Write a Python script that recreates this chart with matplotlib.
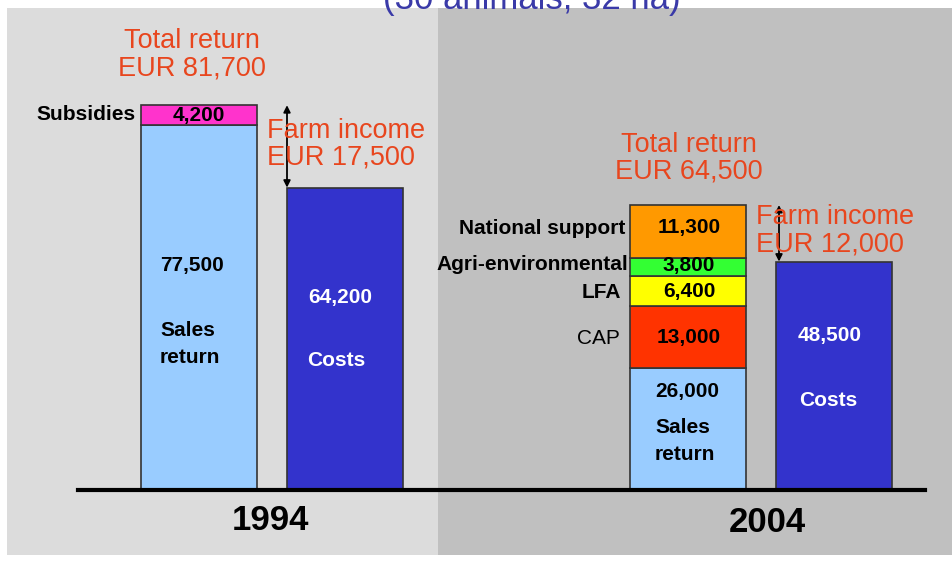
import matplotlib
matplotlib.use("Agg")
import matplotlib.pyplot as plt
import matplotlib.transforms as mtransforms
from matplotlib.patches import Rectangle

# ---------------- data ----------------
years = ["1994", "2004"]
sales_return = [77500, 26000]
subsidies_1994 = [4200]
support_labels_2004 = ["CAP", "LFA", "Agri-environmental", "National support"]
support_values_2004 = [13000, 6400, 3800, 11300]
costs = [64200, 48500]
total_return = [81700, 64500]
farm_income = [17500, 12000]
title_text = "(30 animals, 32 ha)"

# ---------------- style ----------------
W, H = 952, 562
FONT = ["Liberation Sans", "DejaVu Sans"]
plt.rcParams["font.family"] = FONT
RED = "#e8461e"
BLUE_TITLE = "#3a3aa8"
C_SALES = "#99ccff"
C_SUBS = "#ff33cc"
C_COSTS = "#3333cc"
C_SUPPORT = ["#ff3300", "#ffff00", "#33ff33", "#ff9900"]
EDGE = "#333333"

fig = plt.figure(figsize=(W / 100, H / 100), dpi=100)
fig.patch.set_facecolor("white")
ax = fig.add_axes([0, 0, 1, 1])
ax.set_axis_off()

# pixel transform (origin top-left) for layout text
px = mtransforms.Affine2D().scale(1 / W, -1 / H).translate(0, 1) + fig.transFigure

# data scale: baseline at pixel 490, 4.71 px per 1000 EUR
base_px = 490
ppk = 4.71e-3
ax.set_xlim(0, W)
ax.set_ylim(-(H - base_px) / ppk, base_px / ppk)

# background panels
fig.add_artist(Rectangle((7, 8), 431, 547, transform=px, facecolor="#dcdcdc",
                         edgecolor="none", zorder=0))
fig.add_artist(Rectangle((438, 8), 514, 547, transform=px, facecolor="#c0c0c0",
                         edgecolor="none", zorder=0))
ax.set_zorder(1)
ax.patch.set_alpha(0)

bw = 116
x_ret = [199, 688]
x_cost = [345, 833.5]

# 1994 return bar
ax.bar(x_ret[0], sales_return[0], width=bw, color=C_SALES, edgecolor=EDGE, lw=1.2, zorder=3)
ax.bar(x_ret[0], subsidies_1994[0], bottom=sales_return[0], width=bw, color=C_SUBS,
       edgecolor=EDGE, lw=1.2, zorder=3)
# 2004 return bar
ax.bar(x_ret[1], sales_return[1], width=bw, color=C_SALES, edgecolor=EDGE, lw=1.2, zorder=3)
bottom = sales_return[1]
for v, c in zip(support_values_2004, C_SUPPORT):
    ax.bar(x_ret[1], v, bottom=bottom, width=bw, color=c, edgecolor=EDGE, lw=1.2, zorder=3)
    bottom += v
top_2004 = bottom
# costs
ax.bar(x_cost, costs, width=bw, color=C_COSTS, edgecolor=EDGE, lw=1.2, zorder=3)

# baseline
ax.axhline(0, xmin=78 / W, xmax=925 / W, color="black", lw=3, zorder=4)

# farm income arrows
tops = [sales_return[0] + subsidies_1994[0], top_2004]
arrow_x = [287, 779]
for xa, t, c in zip(arrow_x, tops, costs):
    ax.annotate("", xy=(xa, c), xytext=(xa, t),
                arrowprops=dict(arrowstyle="<|-|>", color="black", lw=1.3,
                                mutation_scale=10, shrinkA=0, shrinkB=0), zorder=2)

def T(x, y, s, **kw):
    d = dict(transform=px, zorder=6)
    d.update(kw)
    return fig.text(x, y, s, **d)

# title (partly cut off at the top edge, as in the reference)
T(532, 8.5, title_text, ha="center", va="baseline", fontsize=25, color=BLUE_TITLE)

# red annotations
red_kw = dict(color=RED, fontsize=19.5, linespacing=1.05)
T(192, 55, f"Total return\nEUR {total_return[0]:,}", ha="center", va="center", **red_kw)
T(267, 144, f"Farm income\nEUR {farm_income[0]:,}", ha="left", va="center", **red_kw)
T(689, 158, f"Total return\nEUR {total_return[1]:,}", ha="center", va="center", **red_kw)
T(756, 231, f"Farm income\nEUR {farm_income[1]:,}", ha="left", va="center", **red_kw)

lab = dict(fontsize=15, fontweight="bold", color="black", va="center")
# 1994 labels
T(136, 115, "Subsidies", ha="right", **lab)
T(199, 115, f"{subsidies_1994[0]:,}", ha="center", **lab)
T(160, 265, f"{sales_return[0]:,}", ha="left", **lab)
T(160, 344, "Sales\nreturn", ha="left", linespacing=1.5, **lab)
T(340, 298, f"{costs[0]:,}", ha="center", **{**lab, "color": "white"})
T(307, 360, "Costs", ha="left", **{**lab, "color": "white"})

# 2004 labels
sup_y = [338, 292, 265, 228]
sup_lab_x = [620, 621, 628, 625]
for name, v, yy, lx in zip(support_labels_2004, support_values_2004, sup_y, sup_lab_x):
    kw = dict(lab)
    if name == "CAP":
        kw["fontweight"] = "normal"
    T(lx, yy, name, ha="right", **kw)
    T(689, yy, f"{v:,}", ha="center", **lab)
T(655, 392, f"{sales_return[1]:,}", ha="left", **lab)
T(655, 441, "Sales\nreturn", ha="left", linespacing=1.5, **lab)
T(830, 336, f"{costs[1]:,}", ha="center", **{**lab, "color": "white"})
T(828, 400, "Costs", ha="center", **{**lab, "color": "white"})

# year labels
T(270, 520, years[0], ha="center", va="center", fontsize=25, fontweight="bold")
T(767, 522, years[1], ha="center", va="center", fontsize=25, fontweight="bold")

fig.savefig("out.png", dpi=100, facecolor="white")
